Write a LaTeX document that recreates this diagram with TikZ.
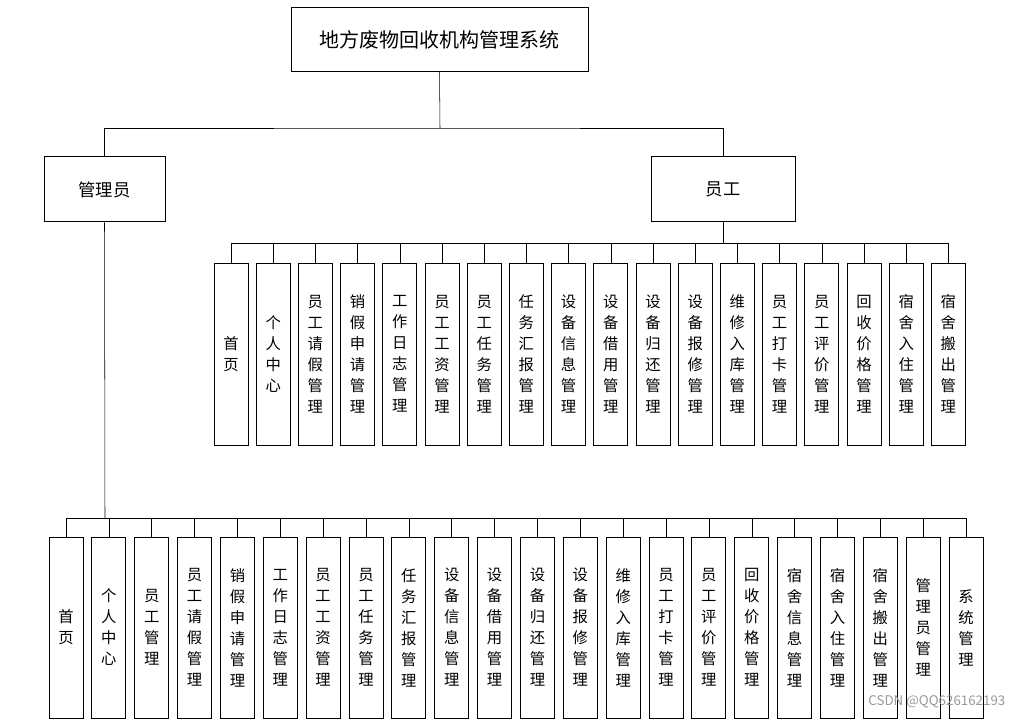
\documentclass[tikz,border=0pt]{standalone}
\usepackage{fontspec}
\setmainfont{Liberation Serif}
\newfontfamily\cjk{Noto Sans CJK SC}
\XeTeXlinebreaklocale "zh"
\tikzset{
	topbox/.style={draw, line width=0.75, inner sep=0pt, font=\cjk\fontsize{15}{18}\selectfont},
	leafbox/.style={draw, line width=0.75, inner sep=0pt, minimum width=25.5pt, text width=12pt, align=center, font=\cjk\fontsize{11.5}{15.75}\selectfont}
}
\begin{document}
\begin{tikzpicture}[x=0.75pt,y=0.75pt,yscale=-1,xscale=1]
	\useasboundingbox (0,0) rectangle (1023,720);
	\node [topbox, minimum width=222.75pt, minimum height=48pt] (root) at (439.5,40) {地方废物回收机构管理系统};
	\node [topbox, minimum width=90.75pt, minimum height=48.75pt, font=\cjk\fontsize{13}{16}\selectfont] (admin) at (104.5,189.5) {管理员};
	\node [topbox, minimum width=108pt, minimum height=48.75pt, font=\cjk\fontsize{13}{16}\selectfont] (staff) at (723,189.5) {员工};
	\coordinate (topbus) at (440,128);
	\draw (root.south) -- (topbus);
	\draw (admin.north) |- (topbus) -| (staff.north);
	% staff children
	\foreach \t [count=\i] in {首页,个人中心,员工请假管理,销假申请管理,工作日志管理,员工工资管理,员工任务管理,任务汇报管理,设备信息管理,设备借用管理,设备归还管理,设备报修管理,维修入库管理,员工打卡管理,员工评价管理,回收价格管理,宿舍入住管理,宿舍搬出管理}
		\node [leafbox, minimum height=136.5pt] (e\i) at ({231+42.2*(\i-1)},354) {\t};
	\coordinate (ebus) at (723,243);
	\draw (staff.south) -- (ebus);
	\draw (e1.north |- ebus) -- (e18.north |- ebus);
	\foreach \i in {1,...,18}
		\draw (e\i.north) -- (e\i.north |- ebus);
	% admin children
	\foreach \t [count=\i] in {首页,个人中心,员工管理,员工请假管理,销假申请管理,工作日志管理,员工工资管理,员工任务管理,任务汇报管理,设备信息管理,设备借用管理,设备归还管理,设备报修管理,维修入库管理,员工打卡管理,员工评价管理,回收价格管理,宿舍信息管理,宿舍入住管理,宿舍搬出管理,管理员管理,系统管理}
		\node [leafbox, minimum height=135.75pt] (a\i) at ({66+42.86*(\i-1)},627.5) {\t};
	\coordinate (abus) at (105,518);
	\draw (admin.south) -- (abus);
	\draw (a1.north |- abus) -- (a22.north |- abus);
	\foreach \i in {1,...,22}
		\draw (a\i.north) -- (a\i.north |- abus);
	\node [anchor=east, text=black!40, font=\cjk\fontsize{10}{12}\selectfont] (mark) at (1010,702) {CSDN @QQ626162193};
\end{tikzpicture}
\end{document}
